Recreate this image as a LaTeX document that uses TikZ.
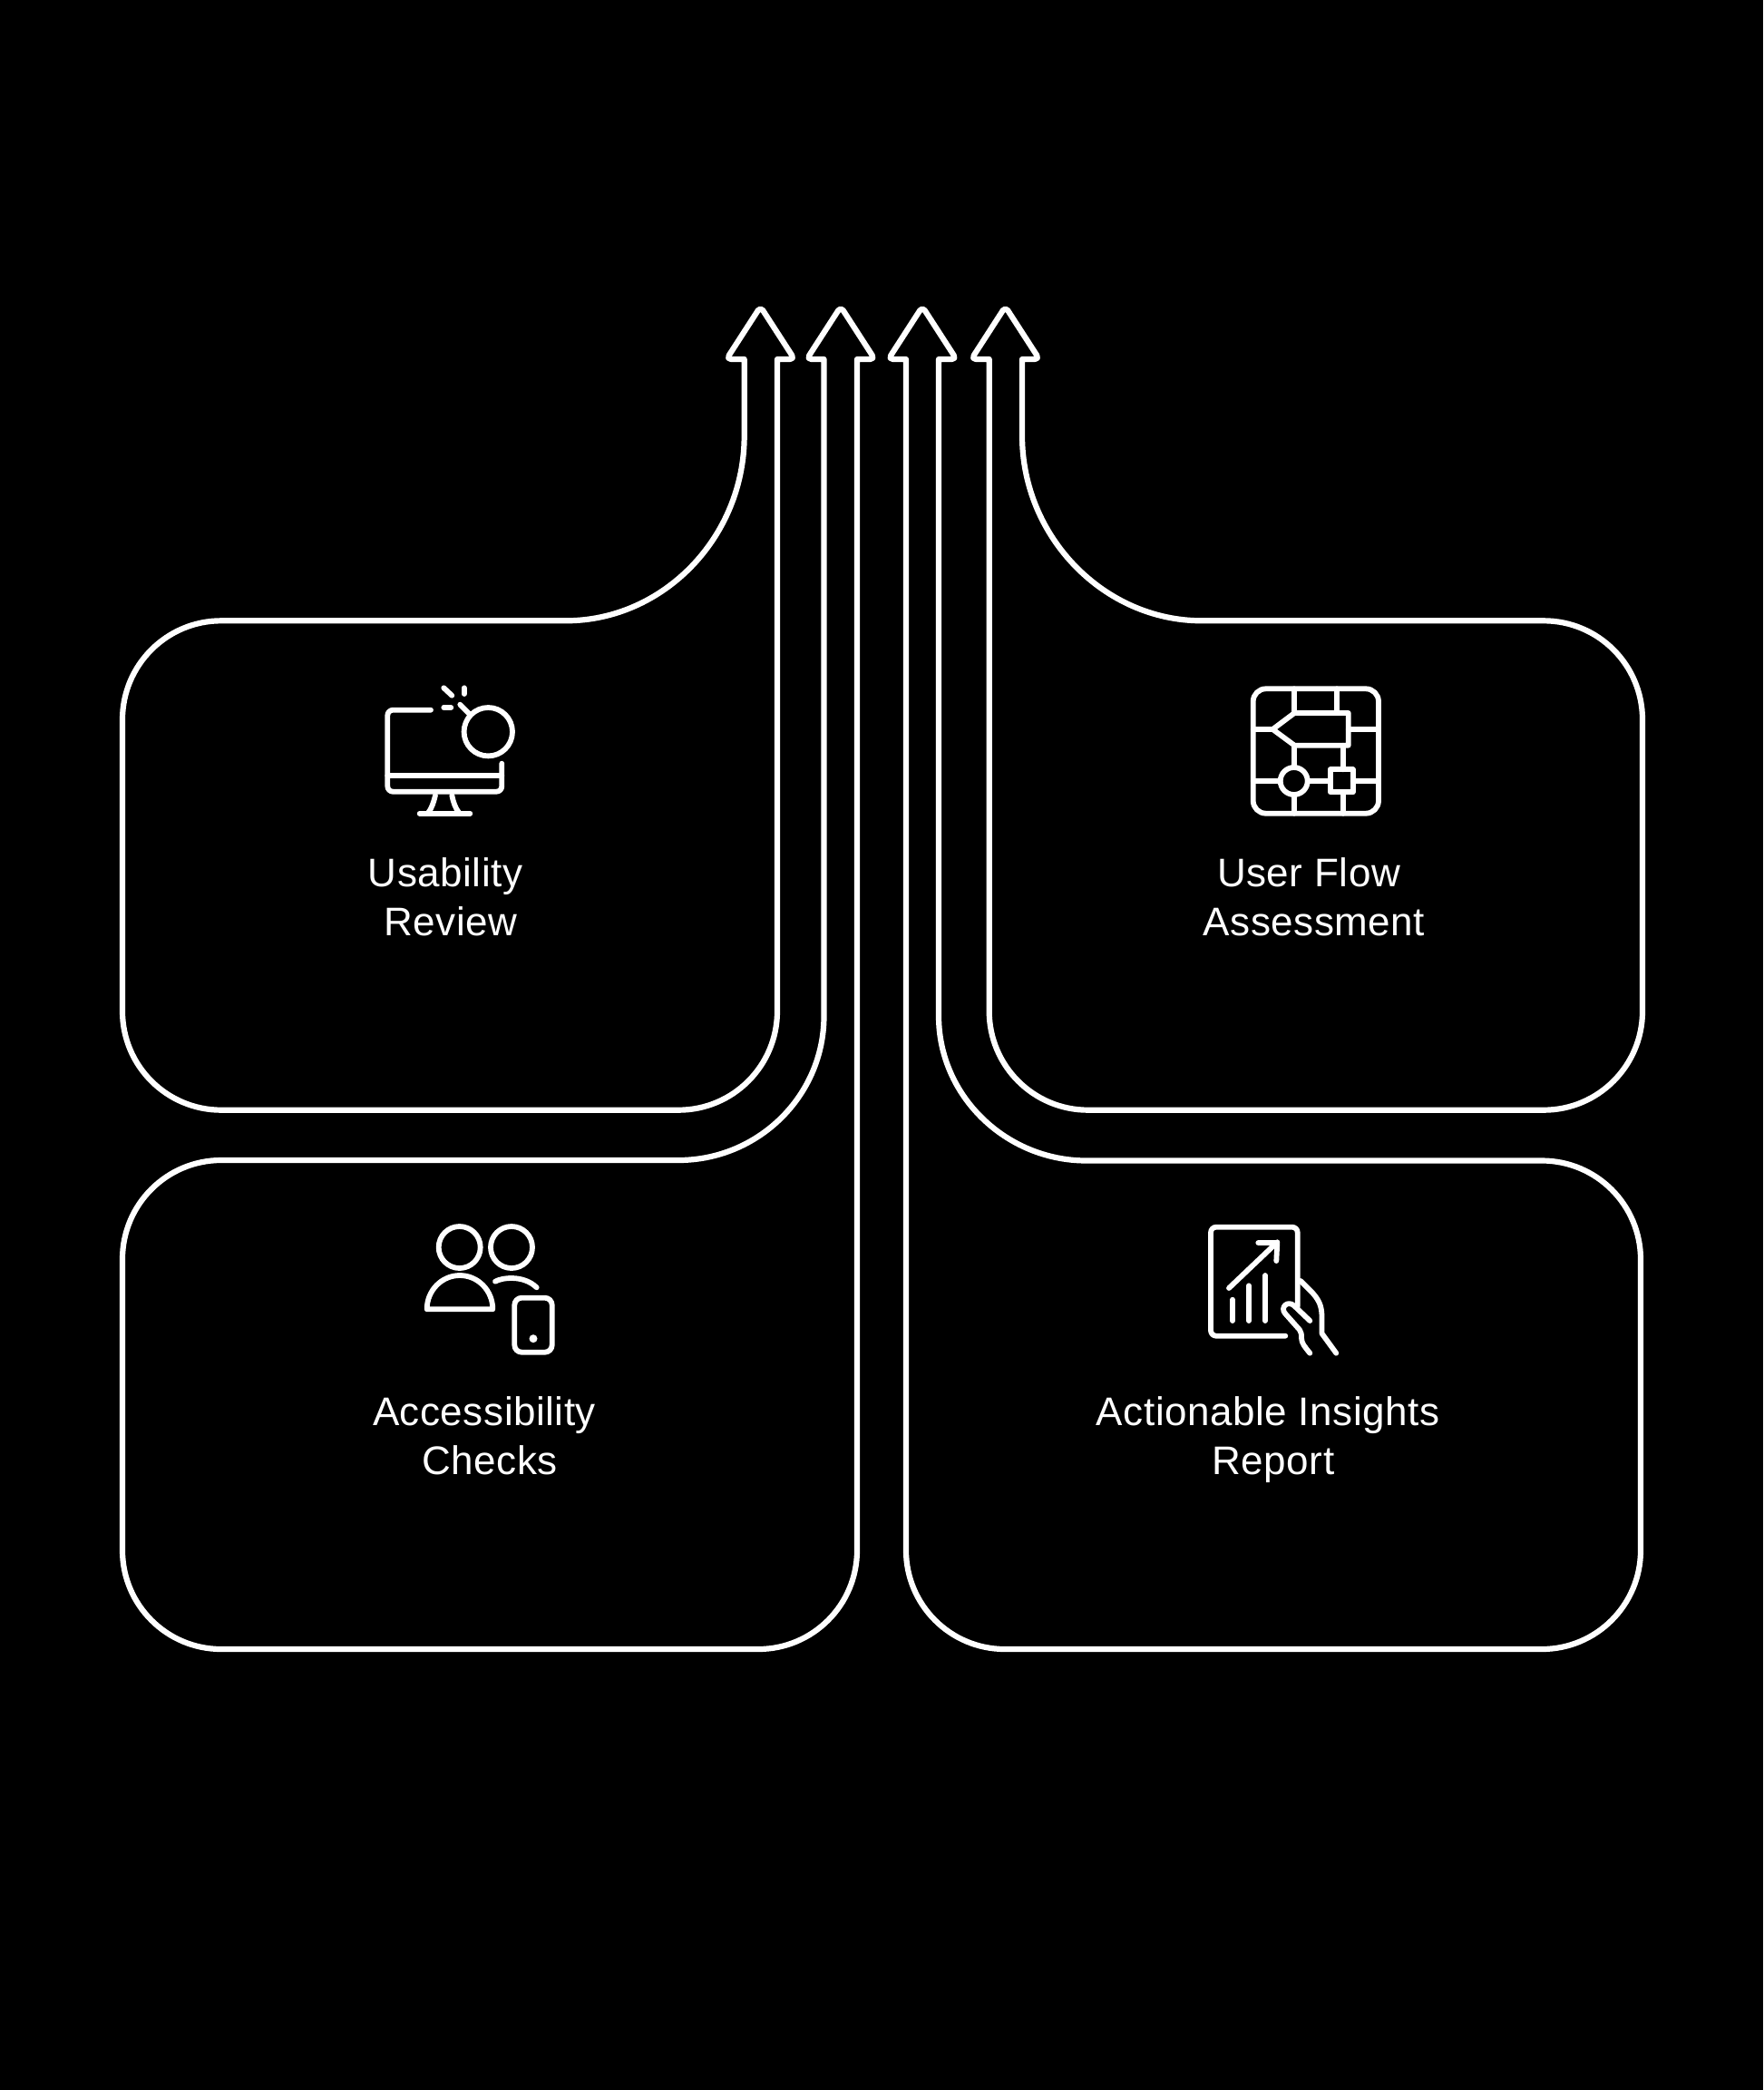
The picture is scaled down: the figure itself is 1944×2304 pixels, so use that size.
\documentclass[tikz,border=0pt]{standalone}
\usepackage{fontspec}
\setmainfont[LetterSpace=1.2]{Liberation Sans}
\tikzset{
  x=1pt,y=-1pt,
  outline/.style={draw=white,line width=6.2pt,line join=round,line cap=round},
  icon/.style={draw=white,line width=5.8pt,line join=round,line cap=round},
  steplabel/.style={text=white,font=\fontsize{44}{53.6}\selectfont,align=center,inner sep=0pt,anchor=base},
}
\begin{document}
\begin{tikzpicture}
\useasboundingbox[fill=black] (0,0) rectangle (1944,2304);
% Usability Review
\draw[outline] (820.7,480) .. controls (820.7,592.7) and (731,684.3) .. (624,684.3)
  [rounded corners=109pt] -- (135,684.3) -- (135,1223.7) -- (857,1223.7)
  [sharp corners] -- (857,396) [rounded corners=5pt] -- (876,396) -- (838.5,338) -- (801,396)
  [sharp corners] -- (820.7,396) -- cycle;
% Accessibility Checks
\draw[outline] (908.5,1120) .. controls (908.5,1208) and (836,1279) .. (748,1279)
  [rounded corners=109pt] -- (135,1279) -- (135,1818) -- (945,1818)
  [sharp corners] -- (945,396) [rounded corners=5pt] -- (964.5,396) -- (927,338) -- (889.5,396)
  [sharp corners] -- (908.5,396) -- cycle;
% Actionable Insights Report
\draw[outline] (1035,1120) .. controls (1035,1208) and (1109,1279.5) .. (1198,1279.5)
  [rounded corners=109pt] -- (1809,1279.5) -- (1809,1818) -- (999,1818)
  [sharp corners] -- (999,396) [rounded corners=5pt] -- (979.5,396) -- (1017,338) -- (1054.5,396)
  [sharp corners] -- (1035,396) -- cycle;
% User Flow Assessment
\draw[outline] (1127,480) .. controls (1127,592.7) and (1218,684.3) .. (1325,684.3)
  [rounded corners=109pt] -- (1811,684.3) -- (1811,1223.7) -- (1090.7,1223.7)
  [sharp corners] -- (1090.7,396) [rounded corners=5pt] -- (1071,396) -- (1108.5,338) -- (1146,396)
  [sharp corners] -- (1127,396) -- cycle;

% Labels
\node[steplabel] (usability) at (491,1031.3) {Usability\\\hspace*{12pt}Review};
\node[steplabel] (userflow) at (1443,1031.3) {User Flow\\\hspace*{12pt}Assessment};
\node[steplabel] (access) at (534,1625.3) {Accessibility\\\hspace*{12pt}Checks};
\node[steplabel] (insights) at (1398,1625.3) {Actionable Insights\\\hspace*{12pt}Report};

% Icon: monitor and magnifier
\draw[icon,rounded corners=6pt] (475,782.7) -- (427.3,782.7) -- (427.3,872.7) -- (553.3,872.7) -- (553.3,841.7);
\draw[icon] (427.3,855) -- (553.3,855);
\draw[icon] (480,876.7) .. controls (478,885) and (476,891) .. (471.7,896.7);
\draw[icon] (498.3,876.7) .. controls (500,885) and (502,891) .. (506.7,896.7);
\draw[icon] (462.7,896.7) -- (518.3,896.7);
\draw[icon] (538.3,806.7) circle[radius=26.7];
\draw[icon] (507.3,776.7) -- (517.3,786.7);
\draw[icon] (489.3,758.3) -- (498.3,766.7);
\draw[icon] (511.7,758.3) -- (511.7,765);
\draw[icon] (489.3,780) -- (497.3,780);

% Icon: flow chart
\draw[icon,rounded corners=14pt] (1381.7,759.3) rectangle (1520,896.7);
\draw[icon] (1403.3,804) -- (1427.3,786) -- (1486.7,786) -- (1486.7,821.7) -- (1427.3,821.7) -- cycle;
\draw[icon] (1426.7,759.3) -- (1426.7,786);
\draw[icon] (1474.3,759.3) -- (1474.3,786);
\draw[icon] (1381.7,804) -- (1403.3,804);
\draw[icon] (1486.7,804) -- (1520,804);
\draw[icon] (1426.7,821.7) -- (1426.7,846);
\draw[icon] (1426.7,861) circle[radius=15];
\draw[icon] (1426.7,876) -- (1426.7,896.7);
\draw[icon] (1466.7,848.3) rectangle (1491.7,873.3);
\draw[icon] (1480.7,821.7) -- (1480.7,848.3);
\draw[icon] (1480.7,873.3) -- (1480.7,896.7);
\draw[icon] (1381.7,861) -- (1411.7,861);
\draw[icon] (1441.7,861) -- (1466.7,861);
\draw[icon] (1491.7,861) -- (1520,861);

% Icon: users and phone
\draw[icon] (506.7,1375) circle[radius=23];
\draw[icon] (564,1375) circle[radius=23];
\draw[icon] (470.7,1443.3) arc[start angle=180,end angle=360,x radius=36.3,y radius=37.3] -- cycle;
\draw[icon] (546,1412.7) .. controls (553,1408.5) and (577,1405) .. (591.7,1419.3);
\draw[icon,rounded corners=8pt] (567.3,1430.7) rectangle (608.7,1490.7);
\fill[white] (588,1475.7) circle[radius=4.5];

% Icon: tablet chart in hand
\draw[icon,rounded corners=6pt] (1417.3,1472.7) -- (1335,1472.7) -- (1335,1352.7) -- (1430.7,1352.7) -- (1430.7,1440);
\draw[icon] (1359,1432.7) -- (1359,1456);
\draw[icon] (1377,1417.3) -- (1377,1456);
\draw[icon] (1395,1406) -- (1395,1456);
\draw[icon] (1355,1420) -- (1408.3,1369.3);
\draw[icon] (1387.3,1370) -- (1408.3,1370) -- (1407.3,1390);
\draw[icon] (1434,1412) -- (1447,1425) .. controls (1455,1434) and (1457,1440) .. (1457.5,1450) -- (1457.5,1470) -- (1473.3,1491.7);
\draw[icon] (1444.3,1456) -- (1427,1439.5) .. controls (1420,1433) and (1411,1441) .. (1417,1448) -- (1433,1466) .. controls (1435,1469) and (1435,1471) .. (1435,1475) .. controls (1435,1481) and (1439,1485) .. (1444.3,1491.7);
\end{tikzpicture}
\end{document}
